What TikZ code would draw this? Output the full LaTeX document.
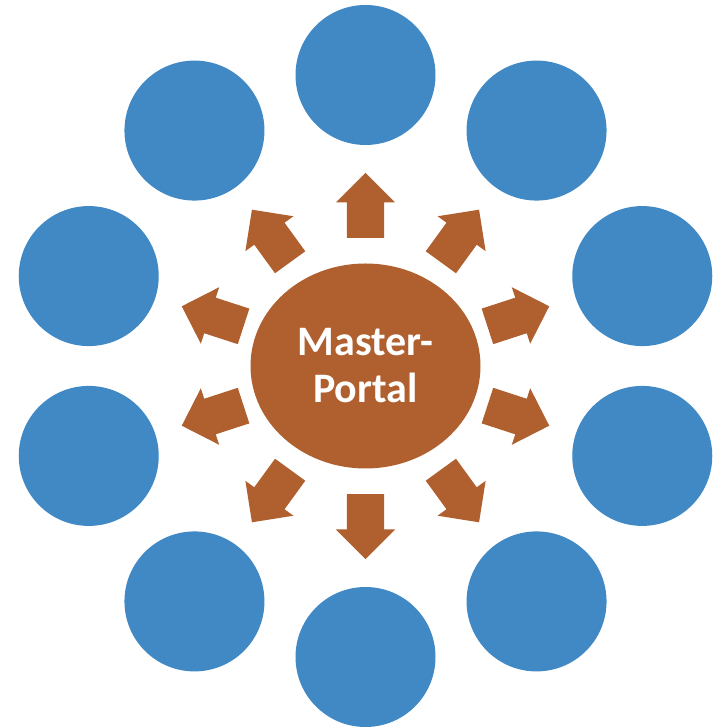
\documentclass[tikz,border=0pt]{standalone}
\usepackage{fontspec}
\setsansfont{Carlito}
\usetikzlibrary{shapes,arrows}
\usetikzlibrary{positioning,calc}
\definecolor{portalbrown}{RGB}{176,95,46}
\definecolor{satblue}{RGB}{65,137,196}

\begin{document}
\begin{tikzpicture}[x=1pt,y=1pt]
  \tikzset{
  hub_e/.style = {ellipse, fill=portalbrown, draw=none, minimum width=230pt,
    minimum height=205pt, align=center, text=white,
    font=\sffamily\bfseries\fontsize{42}{47}\selectfont},% portail central
  sat_c/.style = {circle, fill=satblue, draw=none, minimum size=140pt,
    inner sep=0pt},% cercle exterieur
  arr_b/.style = {single arrow, fill=portalbrown, draw=none,
    minimum height=65pt, inner xsep=0pt, inner ysep=18.5pt,
    single arrow head extend=11pt, anchor=tail}% fleche pleine
}

\useasboundingbox (0,0) rectangle (716,728);
\coordinate (mid) at (365.5,362);

\node [hub_e] (portal) at (mid) {Master-\\Portal};

\foreach \i in {0,...,9}{
  \pgfmathsetmacro{\ang}{90+36*\i}
  \node [sat_c] (sat\i) at ($(mid)+(\ang:291)$) {};
  \node [arr_b, rotate=\ang] (arr\i) at ($(mid)+(\ang:128)$) {};
}
\end{tikzpicture}
\end{document}
